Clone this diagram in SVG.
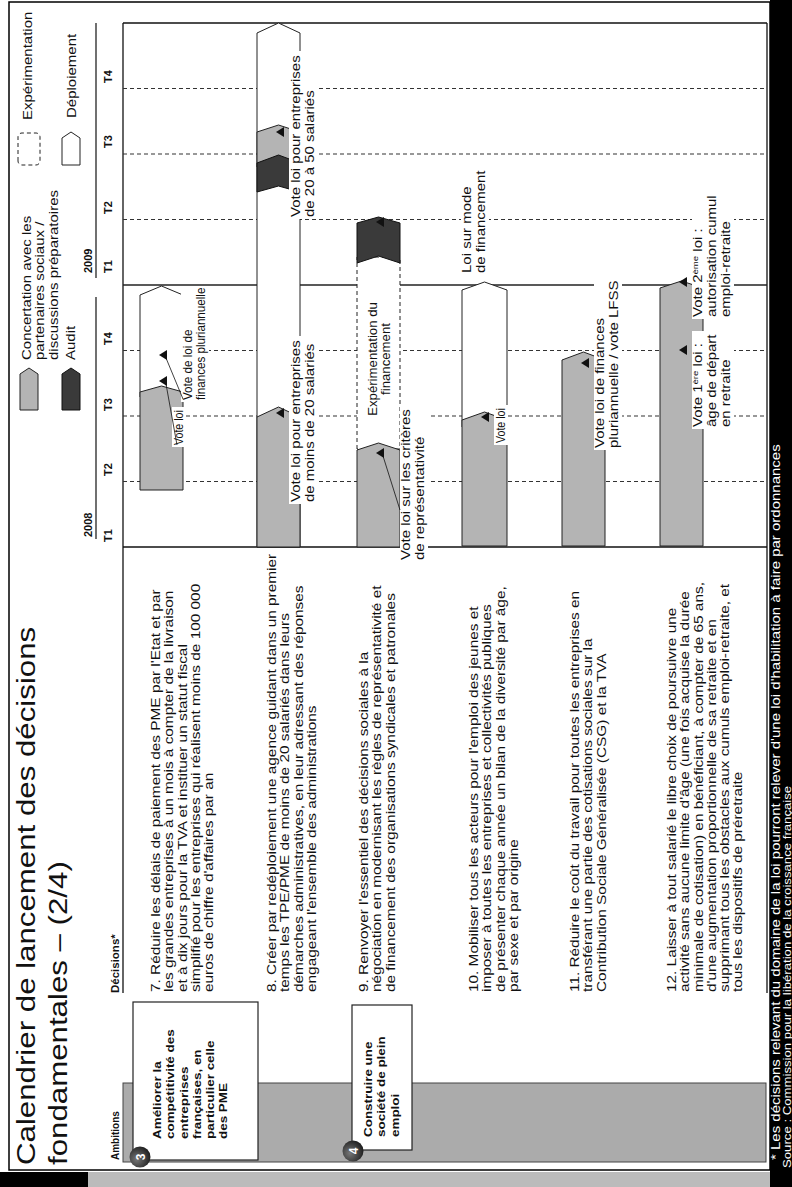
<svg xmlns="http://www.w3.org/2000/svg" width="792" height="1187" viewBox="0 0 792 1187">
<style>
.f{font-family:"Liberation Sans",Arial,sans-serif;fill:#111}
.t{font-size:25px}
.d{font-size:12.5px}
.s{font-size:12.5px}
.a{font-size:11.2px;font-weight:bold}
.h{font-size:10px;font-weight:bold}
.q{font-size:11px;font-weight:bold}
.w{fill:#fff}
.grid{stroke:#333;stroke-width:1.2;stroke-dasharray:4 3}
.conc{fill:#b4b4b4;stroke:#222;stroke-width:1}
.aud{fill:#3a3a3a;stroke:#111;stroke-width:1}
.dep{fill:#fff;stroke:#222;stroke-width:1}
.exp{fill:#fff;stroke:#222;stroke-width:1;stroke-dasharray:4 3}
.bg{fill:#fff}
.ms{fill:#111}
.lead{stroke:#111;stroke-width:0.8;fill:none}
.box{fill:#fff;stroke:#222;stroke-width:1.2}
.num{font-size:12px;font-weight:bold;fill:#fff;text-anchor:middle}
</style>
<defs>
<radialGradient id="ball" cx="0.4" cy="0.35" r="0.7">
<stop offset="0" stop-color="#777"/>
<stop offset="1" stop-color="#1a1a1a"/>
</radialGradient>
</defs>
<rect width="792" height="1187" fill="#fff"/>
<g transform="translate(0,1187) rotate(-90)">
  <rect x="0" y="0" width="15" height="88" fill="#000"/>
  <rect x="0" y="88" width="15" height="682" fill="#bbb"/>
  <rect x="0" y="770" width="1187" height="22" fill="#000"/>
  <rect x="17" y="9" width="1168" height="761" fill="none" stroke="#000" stroke-width="1.5"/>

  <g id="title">
    <text class="f t" transform="translate(22,35) scale(1.25,1)">Calendrier de lancement des décisions</text>
    <text class="f t" transform="translate(22,67) scale(1.25,1)">fondamentales – (2/4)</text>
  </g>

  <g id="legend">
    <polygon class="conc" points="777,20 813,20 819,29 813,38 777,38"/>
    <text class="f d" transform="translate(827,31) scale(1.2,1)"><tspan x="0">Concertation avec les</tspan><tspan x="0" dy="13.5">partenaires sociaux /</tspan><tspan x="0" dy="13.5">discussions préparatoires</tspan></text>
    <polygon class="aud" points="777,62 813,62 819,71 813,80 777,80"/>
    <text class="f d" transform="translate(827,75) scale(1.2,1)">Audit</text>
    <rect class="exp" x="1022" y="18" width="32" height="22" rx="4"/>
    <text class="f d" transform="translate(1067,32) scale(1.2,1)">Expérimentation</text>
    <polygon class="dep" points="1022,62 1049,62 1055,71 1049,80 1022,80"/>
    <text class="f d" transform="translate(1069,76) scale(1.2,1)">Déploiement</text>
  </g>

  <g id="headers">
    <text class="f h" transform="translate(27,119)">Ambitions</text>
    <text class="f h" transform="translate(194,119) scale(1.15,1)">Décisions*</text>
    <line x1="194" y1="123" x2="1164" y2="123" stroke="#111" stroke-width="1.3"/>
    <line x1="194" y1="767" x2="1164" y2="767" stroke="#111" stroke-width="1.3"/>
  </g>

  <g id="timeline">
    <text class="f q" x="650" y="92">2008</text>
    <text class="f q" x="914" y="92">2009</text>
    <line x1="648" y1="96" x2="890" y2="96" stroke="#111" stroke-width="1.2"/>
    <line x1="909" y1="96" x2="1164" y2="96" stroke="#111" stroke-width="1.2"/>
    <g class="f q">
      <text x="645" y="112">T1</text>
      <text x="711" y="112">T2</text>
      <text x="776" y="112">T3</text>
      <text x="842" y="112">T4</text>
      <text x="914" y="112">T1</text>
      <text x="973" y="112">T2</text>
      <text x="1039" y="112">T3</text>
      <text x="1104" y="112">T4</text>
    </g>
    <g class="grid">
      <line x1="705.5" y1="123" x2="705.5" y2="767"/>
      <line x1="771" y1="123" x2="771" y2="767"/>
      <line x1="836.5" y1="123" x2="836.5" y2="767"/>
      <line x1="967.5" y1="123" x2="967.5" y2="767"/>
      <line x1="1033" y1="123" x2="1033" y2="767"/>
      <line x1="1098.5" y1="123" x2="1098.5" y2="767"/>
    </g>
    <line x1="902" y1="123" x2="902" y2="767" stroke="#222" stroke-width="1.3"/>
    <line x1="640" y1="123" x2="640" y2="767" stroke="#111" stroke-width="1.6"/>
    <line x1="1164" y1="123" x2="1164" y2="767" stroke="#111" stroke-width="1.3"/>
  </g>

  <g id="ambitions">
    <rect x="25" y="123" width="79" height="643" fill="#ababab" stroke="#444" stroke-width="1"/>
  </g>
  <g id="ambition-3">
    <rect class="box" x="27" y="133" width="158" height="125"/>
    <text class="f a" transform="translate(48,161) scale(1.2,1)"><tspan x="0">Améliorer la</tspan><tspan x="0" dy="13.3">compétitivité des</tspan><tspan x="0" dy="13.3">entreprises</tspan><tspan x="0" dy="13.3">françaises, en</tspan><tspan x="0" dy="13.3">particulier celle</tspan><tspan x="0" dy="13.3">des PME</tspan></text>
    <circle cx="30" cy="140" r="10.5" fill="url(#ball)"/>
    <text class="f num" x="30" y="144.5">3</text>
  </g>
  <g id="ambition-4">
    <rect class="box" x="37" y="352" width="145" height="60"/>
    <text class="f a" transform="translate(50,372) scale(1.2,1)"><tspan x="0">Construire une</tspan><tspan x="0" dy="13.3">société de plein</tspan><tspan x="0" dy="13.3">emploi</tspan></text>
    <circle cx="36" cy="353" r="10.5" fill="url(#ball)"/>
    <text class="f num" x="36" y="357.5">4</text>
  </g>

  <g id="decision-7">
    <text class="f d" transform="translate(195,160) scale(1.23,1)"><tspan x="0">7. Réduire les délais de paiement des PME par l'Etat et par</tspan><tspan x="0" dy="13.3">les grandes entreprises à un mois à compter de la livraison</tspan><tspan x="0" dy="13.3">et à dix jours pour la TVA et instituer un statut fiscal</tspan><tspan x="0" dy="13.3">simplifié pour les entreprises qui réalisent moins de 100 000</tspan><tspan x="0" dy="13.3">euros de chiffre d'affaires par an</tspan></text>
  </g>
  <g id="decision-8">
    <text class="f d" transform="translate(195,276) scale(1.23,1)"><tspan x="0">8. Créer par redéploiement une agence guidant dans un premier</tspan><tspan x="0" dy="13.3">temps les TPE/PME de moins de 20 salariés dans leurs</tspan><tspan x="0" dy="13.3">démarches administratives, en leur adressant des réponses</tspan><tspan x="0" dy="13.3">engageant l'ensemble des administrations</tspan></text>
  </g>
  <g id="decision-9">
    <text class="f d" transform="translate(195,368) scale(1.23,1)"><tspan x="0">9. Renvoyer l'essentiel des décisions sociales à la</tspan><tspan x="0" dy="13.3">négociation en modernisant les règles de représentativité et</tspan><tspan x="0" dy="13.3">de financement des organisations syndicales et patronales</tspan></text>
  </g>
  <g id="decision-10">
    <text class="f d" transform="translate(195,478) scale(1.23,1)"><tspan x="0">10. Mobiliser tous les acteurs pour l'emploi des jeunes et</tspan><tspan x="0" dy="13.3">imposer à toutes les entreprises et collectivités publiques</tspan><tspan x="0" dy="13.3">de présenter chaque année un bilan de la diversité par âge,</tspan><tspan x="0" dy="13.3">par sexe et par origine</tspan></text>
  </g>
  <g id="decision-11">
    <text class="f d" transform="translate(195,579) scale(1.23,1)"><tspan x="0">11. Réduire le coût du travail pour toutes les entreprises en</tspan><tspan x="0" dy="13.3">transférant une partie des cotisations sociales sur la</tspan><tspan x="0" dy="13.3">Contribution Sociale Généralisée (CSG) et la TVA</tspan></text>
  </g>
  <g id="decision-12">
    <text class="f d" transform="translate(195,676) scale(1.23,1)"><tspan x="0">12. Laisser à tout salarié le libre choix de poursuivre une</tspan><tspan x="0" dy="13.3">activité sans aucune limite d'âge (une fois acquise la durée</tspan><tspan x="0" dy="13.3">minimale de cotisation) en bénéficiant, à compter de 65 ans,</tspan><tspan x="0" dy="13.3">d'une augmentation proportionnelle de sa retraite et en</tspan><tspan x="0" dy="13.3">supprimant tous les obstacles aux cumuls emploi-retraite, et</tspan><tspan x="0" dy="13.3">tous les dispositifs de préretraite</tspan></text>
  </g>

  <g id="row-7">
    <polygon class="dep" points="790,140 892,140 901,161.5 892,183 790,183"/>
    <polygon class="conc" points="697,140 795,140 801,161.5 795,183 697,183"/>
    <rect class="bg" x="740" y="172" width="40" height="13"/>
    <text class="f s" transform="translate(742,183) scale(0.85,1)">Vote loi</text>
    <rect class="bg" x="785" y="181" width="114" height="28"/>
    <text class="f s" transform="translate(787,192) scale(0.93,1)"><tspan x="0">Vote de loi de</tspan><tspan x="0" dy="13.5">finances pluriannuelle</tspan></text>
    <path class="ms" d="M806,159 L811,167 L801,167 Z"/>
    <path class="ms" d="M832,159 L837,167 L827,167 Z"/>
  </g>

  <g id="row-8">
    <polygon class="dep" points="640,257 1154,257 1164,278.5 1154,300 640,300"/>
    <polygon class="conc" points="640,257 770,257 780,278.5 770,300 640,300"/>
    <polygon class="conc" points="1020,257 1055,257 1062,278.5 1055,300 1020,300"/>
    <polygon class="aud" points="995,257 1024,257 1032,278.5 1024,300 995,300 1001,278.5"/>
    <rect class="bg" x="683" y="289" width="168" height="28"/>
    <text class="f d" transform="translate(685,300) scale(1.2,1)"><tspan x="0">Vote loi pour entreprises</tspan><tspan x="0" dy="14">de moins de 20 salariés</tspan></text>
    <rect class="bg" x="968" y="289" width="168" height="28"/>
    <text class="f d" transform="translate(970,300) scale(1.2,1)"><tspan x="0">Vote loi pour entreprises</tspan><tspan x="0" dy="14">de 20 à 50 salariés</tspan></text>
    <path class="ms" d="M774,276 L779,284 L769,284 Z"/>
    <path class="ms" d="M1055,276 L1060,284 L1050,284 Z"/>
  </g>

  <g id="row-9">
    <rect class="exp" x="738" y="357" width="192" height="43"/>
    <polygon class="conc" points="640,357 737,357 744,378.5 737,400 640,400"/>
    <polygon class="aud" points="924,357 964,357 970,378.5 964,400 924,400 931,378.5"/>
    <text class="f" font-size="12px" text-anchor="middle" transform="translate(828,377) scale(1.1,1)"><tspan x="0">Expérimentation du</tspan><tspan x="0" dy="13">financement</tspan></text>
    <rect class="bg" x="625" y="400" width="157" height="28"/>
    <text class="f d" transform="translate(627,410) scale(1.2,1)"><tspan x="0">Vote loi sur les critères</tspan><tspan x="0" dy="14">de représentativité</tspan></text>
    <path class="ms" d="M734,376 L739,384 L729,384 Z"/>
    <path class="ms" d="M965,376 L970,384 L960,384 Z"/>
  </g>

  <g id="row-10">
    <polygon class="dep" points="760,462 897,462 905,484.5 897,507 760,507"/>
    <polygon class="conc" points="641,462 767,462 775,484.5 767,507 641,507"/>
    <rect class="bg" x="742" y="494" width="40" height="14"/>
    <text class="f s" transform="translate(744,505) scale(0.85,1)">Vote loi</text>
    <rect class="bg" x="912" y="461" width="108" height="28"/>
    <text class="f d" transform="translate(914,471) scale(1.2,1)"><tspan x="0">Loi sur mode</tspan><tspan x="0" dy="14">de financement</tspan></text>
    <path class="ms" d="M770,481 L775,489 L765,489 Z"/>
  </g>

  <g id="row-11">
    <polygon class="conc" points="641,562 827,562 835,583.5 827,605 641,605"/>
    <rect class="bg" x="737" y="594" width="171" height="28"/>
    <text class="f d" transform="translate(739,604) scale(1.2,1)"><tspan x="0">Vote loi de finances</tspan><tspan x="0" dy="14">pluriannuelle / vote LFSS</tspan></text>
    <path class="ms" d="M824,581 L829,589 L819,589 Z"/>
  </g>

  <g id="row-12">
    <polygon class="conc" points="641,660 899,660 906,681.5 899,703 641,703"/>
    <rect class="bg" x="758" y="692" width="98" height="42"/>
    <text class="f d" transform="translate(760,702) scale(1.2,1)"><tspan x="0">Vote 1<tspan font-size="8" dy="-4">ère</tspan><tspan dy="4"> loi :</tspan></tspan><tspan x="0" dy="14">âge de départ</tspan><tspan x="0" dy="14">en retraite</tspan></text>
    <rect class="bg" x="868" y="692" width="127" height="42"/>
    <text class="f d" transform="translate(870,702) scale(1.2,1)"><tspan x="0">Vote 2<tspan font-size="8" dy="-4">ème</tspan><tspan dy="4"> loi :</tspan></tspan><tspan x="0" dy="14">autorisation cumul</tspan><tspan x="0" dy="14">emploi-retraite</tspan></text>
    <path class="ms" d="M837,679 L842,687 L832,687 Z"/>
    <path class="ms" d="M905,679 L910,687 L900,687 Z"/>
  </g>

  <g id="connectors">
    <line class="lead" x1="803" y1="166" x2="742" y2="177"/>
    <line class="lead" x1="829" y1="166" x2="788" y2="183"/>
    <line class="lead" x1="731" y1="383" x2="677" y2="400"/>
  </g>

  <g id="footnote">
    <text class="f d w" transform="translate(27,780) scale(1.2,1)">* Les décisions relevant du domaine de la loi pourront relever d'une loi d'habilitation à faire par ordonnances</text>
    <text class="f w" font-size="11px" transform="translate(19,791) scale(1.2,1)">Source : Commission pour la libération de la croissance française</text>
  </g>
</g>
</svg>
